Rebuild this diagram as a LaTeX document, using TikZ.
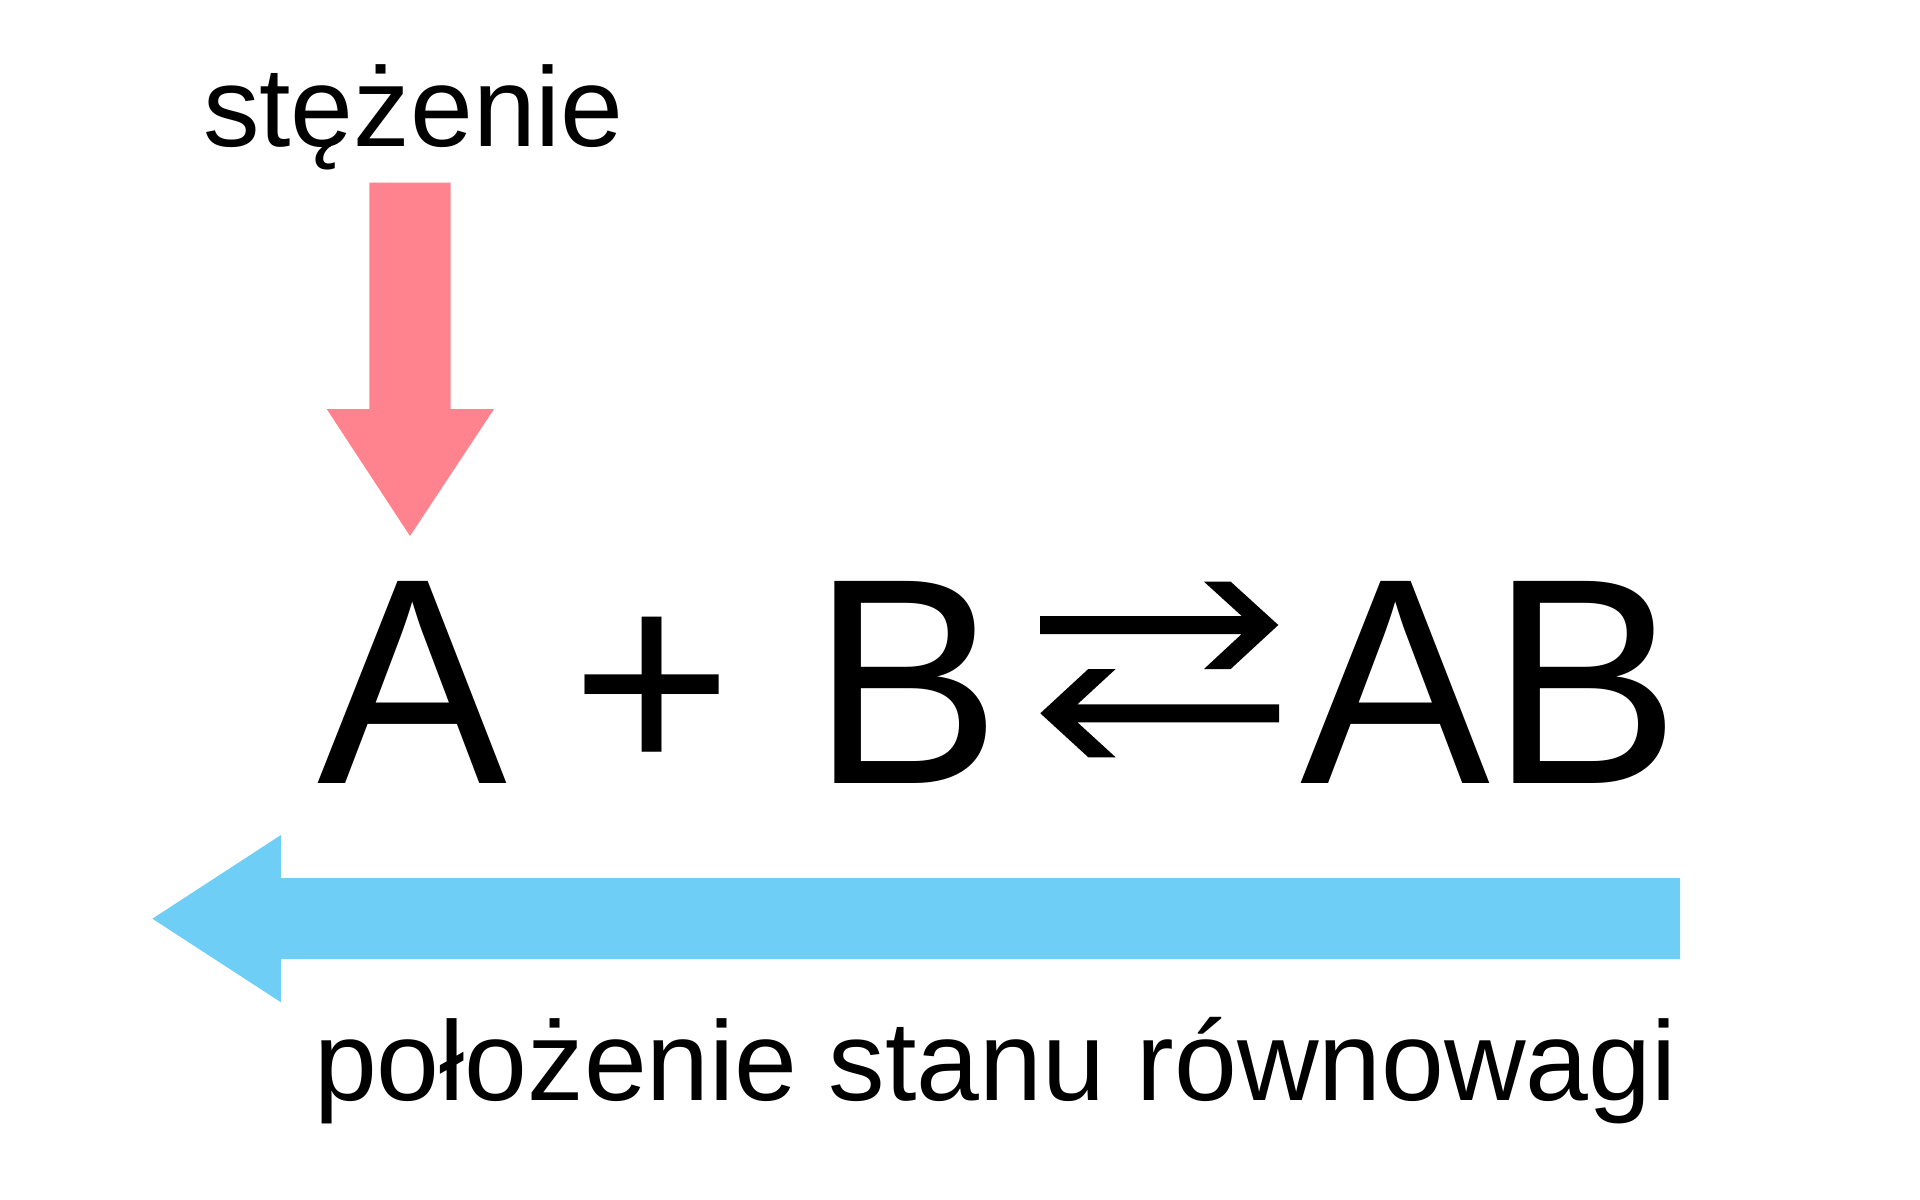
\documentclass[tikz,border=0pt]{standalone}
\usepackage{fontspec}
\setmainfont{Liberation Sans}
\definecolor{pinkarrow}{RGB}{255,131,143}
\definecolor{bluearrow}{RGB}{110,206,245}
\tikzset{
  lbl/.style={inner sep=0pt, outer sep=0pt, anchor=base west, font=\fontsize{32.15pt}{38pt}\selectfont},
  big/.style={inner sep=0pt, outer sep=0pt, font=\fontsize{81pt}{96pt}\selectfont},
  eqarrow/.style={fill=black, draw=none}
}
\newcommand{\tallglyphs}[1]{\scalebox{1}[1.032]{#1}}
\begin{document}
\begin{tikzpicture}[x=0.1mm,y=-0.1mm]
\useasboundingbox (0,0) rectangle (1920,1200);
\fill[white] (0,0) rectangle (1920,1200);

% top label and pink arrow
\node[lbl] (conc) at (203,146.7) {stężenie};
\fill[pinkarrow] (369.3,182.7) -- (450.7,182.7) -- (450.7,409) -- (494,409)
  -- (410,536) -- (326.7,409) -- (369.3,409) -- cycle;

% equation
\node[big, anchor=base] (A) at (412.2,783.7) {\tallglyphs{A}};
\node[big, anchor=base] (plus) at (651.7,776.2) {\scalebox{0.97}{+}};
\node[big, anchor=base west] (B) at (811,783.7) {\tallglyphs{B}};
\node[big, anchor=base west] (AB) at (1300.2,783.7) {\tallglyphs{AB}};

% equilibrium arrows
\fill[eqarrow] (1040,616) -- (1241.7,616) -- (1204,581.7) -- (1230.7,581.7)
  -- (1278.3,625) -- (1230.7,669) -- (1204,669) -- (1241.7,634) -- (1040,634) -- cycle;
\fill[eqarrow] (1279,704.3) -- (1077.4,704.3) -- (1115.7,669) -- (1088.3,669)
  -- (1040.3,713.3) -- (1088.3,757.3) -- (1115.7,757.3) -- (1077.4,722.3) -- (1279,722.3) -- cycle;

% blue arrow
\fill[bluearrow] (1680,878) -- (281,878) -- (281,835) -- (152.4,918.7)
  -- (281,1002.3) -- (281,959) -- (1680,959) -- cycle;

% bottom label
\node[lbl] (pos) at (314,1100.7) {położenie stanu równowagi};
\end{tikzpicture}
\end{document}
